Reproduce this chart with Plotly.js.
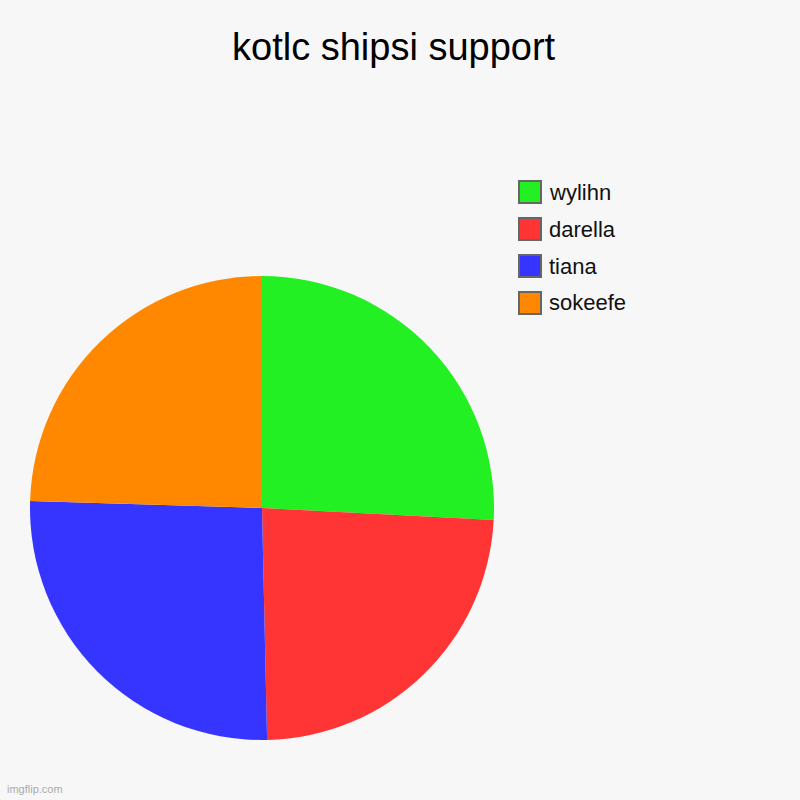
<!DOCTYPE html>
<html lang="en">
  <head>
    <meta charset="utf-8">
    <title>kotlc shipsi support</title>
    <script src="https://cdn.plot.ly/plotly-3.0.1.min.js" charset="utf-8"></script>
    <style>
      body { margin:0; background:#f7f7f7; }
    </style>
  </head>
  <body>
    <div id="plot" style="width:800px;height:800px"></div>
    <script type="text/javascript">
      // slices, clockwise from 12 o'clock
      const names = ['wylihn', 'darella', 'tiana', 'sokeefe'];
      const votes = [25.8, 23.8, 25.8, 24.5];
      const colors = ['#22f022', '#ff3535', '#3535ff', '#ff8800'];

      const FONT = 'Liberation Sans, Arial, sans-serif';

      let pie = {
        type:'pie',
        labels:names,
        values:votes,
        sort:false,
        direction:'clockwise',
        rotation:0,
        textinfo:'none',
        hoverinfo:'label+value',
        showlegend:false,
        marker:{
          colors:colors,
          line:{width:0}
        },
        domain:{x:[0.0375, 0.6175], y:[0.075, 0.655]}
      };

      // hand-made legend: 24px swatches like the original
      let shapes = [];
      let annotations = [];
      names.forEach((n, i) => {
        let top = 181 + i*37;
        shapes.push({
          type:'rect', xref:'paper', yref:'paper',
          x0:519/800, x1:541/800,
          y0:1-(top+22)/800, y1:1-top/800,
          fillcolor:colors[i],
          line:{color:'#666666', width:2}
        });
        annotations.push({
          xref:'paper', yref:'paper',
          x:547/800, y:1-(top+11)/800,
          xanchor:'left', yanchor:'middle',
          text:n, showarrow:false,
          font:{family:FONT, size:22, color:'#111111'}
        });
      });
      annotations.push({
        xref:'paper', yref:'paper', x:5/800, y:3/800,
        xanchor:'left', yanchor:'bottom',
        text:'imgflip.com', showarrow:false,
        font:{family:FONT, size:11, color:'#aaaaaa'}
      });

      let layout = {
        width:800,
        height:800,
        margin:{l:0, r:0, t:0, b:0},
        paper_bgcolor:'#f7f7f7',
        plot_bgcolor:'#f7f7f7',
        title:{
          text:'kotlc shipsi support',
          x:0.492, xanchor:'center',
          y:1-47/800, yanchor:'middle',
          font:{family:FONT, size:38, color:'#000000'}
        },
        shapes:shapes,
        annotations:annotations
      };

      Plotly.newPlot(document.getElementById('plot'), [pie], layout, {displayModeBar:false, staticPlot:true});
    </script>
  </body>
</html>
